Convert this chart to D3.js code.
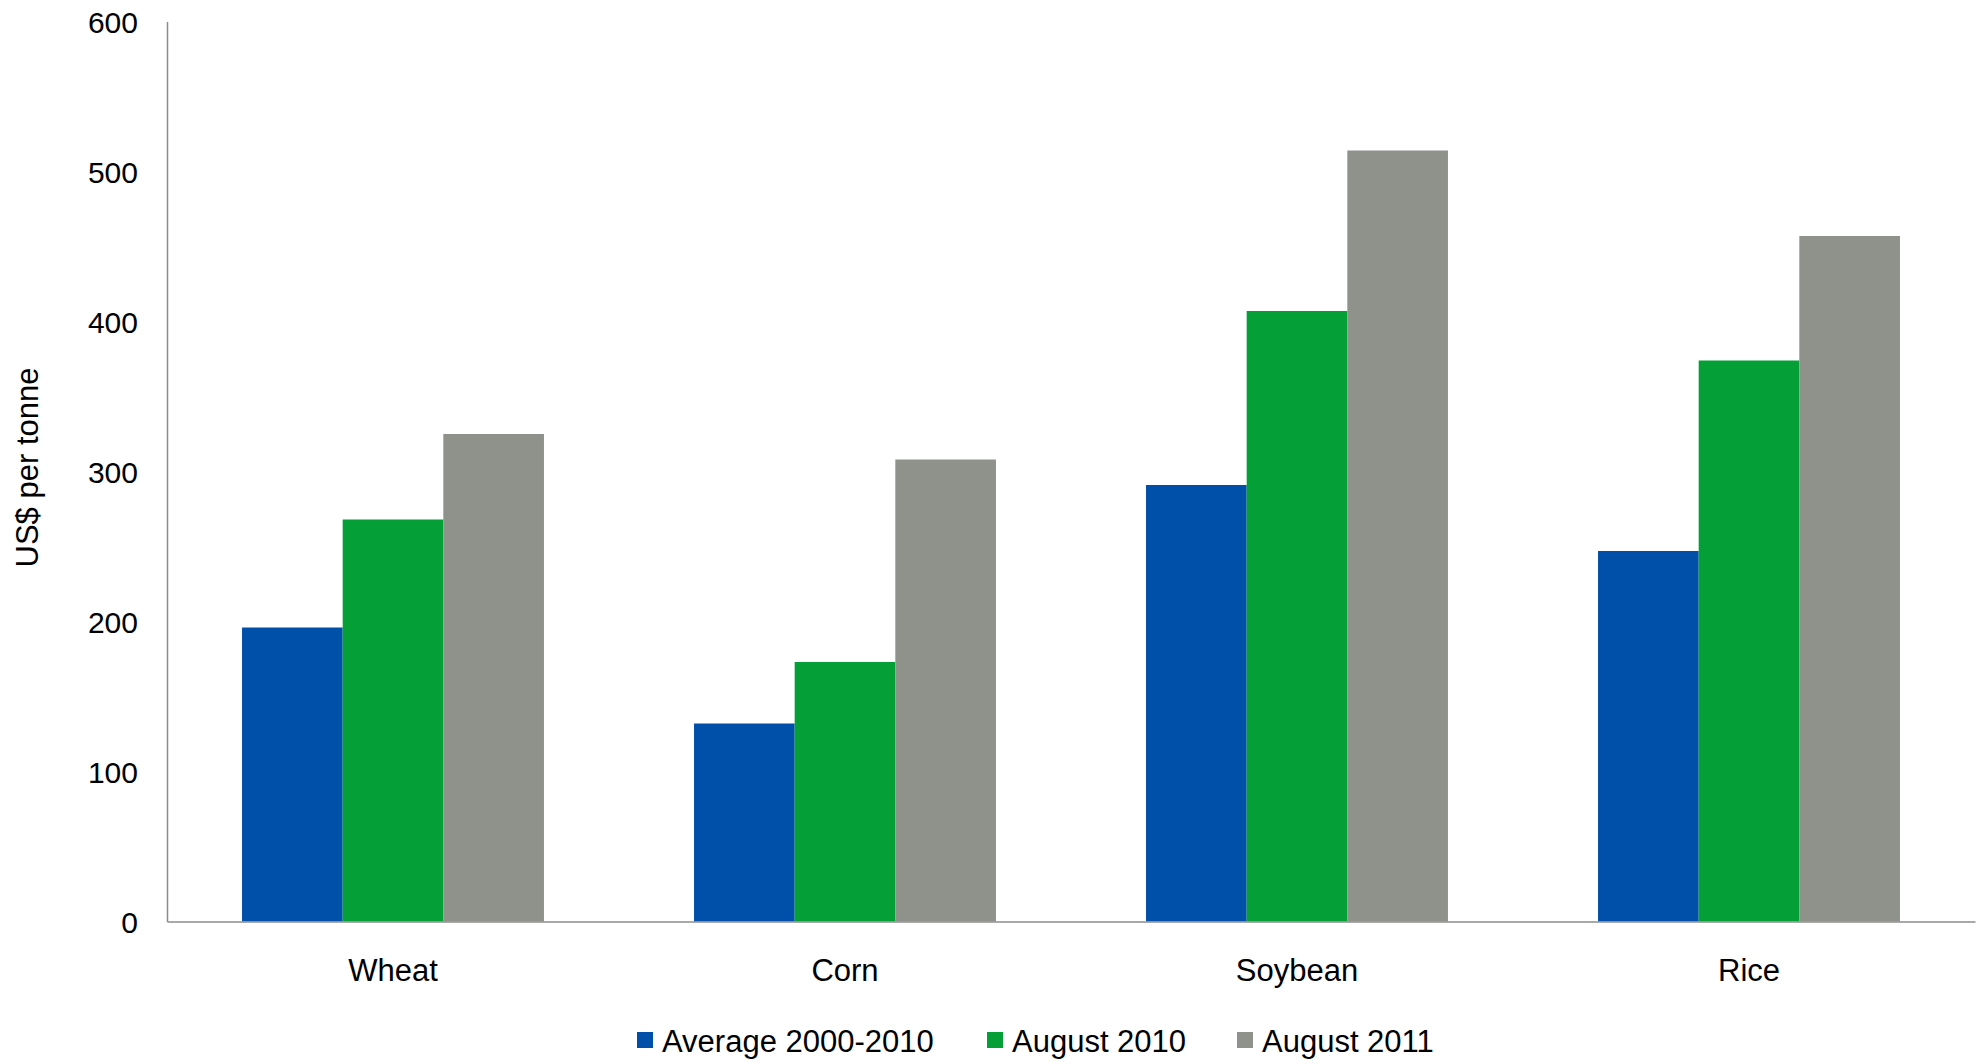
<!DOCTYPE html>
<html>
<head>
<meta charset="utf-8">
<script src="https://cdn.jsdelivr.net/npm/d3@7"></script>
<style>
  html, body { margin: 0; padding: 0; background: #fff; }
  svg { display: block; font-family: Arial, "Liberation Sans", sans-serif; }
</style>
</head>
<body>
<svg id="chart" width="1985" height="1064"></svg>
<script>
// Grain prices, US$ per tonne
const categories = ["Wheat", "Corn", "Soybean", "Rice"];
const seriesNames = ["Average 2000-2010", "August 2010", "August 2011"];
const average2000to2010 = [196, 132, 291, 247];
const august2010 = [268, 173, 407, 374];
const august2011 = [325, 308, 514, 457];
const yTicks = [0, 100, 200, 300, 400, 500, 600];
const seriesColors = ["#0050aa", "#04a037", "#8f918b"];

const seriesValues = [average2000to2010, august2010, august2011];
const rows = categories.map((c, i) => ({
  category: c,
  values: seriesNames.map((s, j) => ({ series: s, value: seriesValues[j][i] }))
}));

const svg = d3.select("#chart");
const margin = { left: 167, right: 10, top: 21.5, bottom: 142.5 };
const W = 1985, H = 1064;
const plotW = W - margin.left - margin.right;
const plotH = H - margin.top - margin.bottom;

const x0 = d3.scaleBand()
  .domain(categories)
  .range([0, plotW])
  .paddingInner(0.332)
  .paddingOuter(0.166);

const x1 = d3.scaleBand()
  .domain(seriesNames)
  .range([0, x0.bandwidth()])
  .padding(0);

const y = d3.scaleLinear().domain([0, 600]).range([plotH, 0]);

const color = d3.scaleOrdinal().domain(seriesNames).range(seriesColors);

const g = svg.append("g").attr("transform", `translate(${margin.left},${margin.top})`);

// bars
g.selectAll("g.group")
  .data(rows)
  .join("g")
  .attr("class", "group")
  .attr("transform", d => `translate(${x0(d.category)},0)`)
  .selectAll("rect")
  .data(d => d.values)
  .join("rect")
  .attr("x", d => x1(d.series))
  .attr("width", x1.bandwidth())
  .attr("y", d => y(d.value))
  .attr("height", d => plotH - y(d.value))
  .attr("fill", d => color(d.series));

// y axis
const yAxis = g.append("g")
  .call(d3.axisLeft(y).tickValues(yTicks).tickSize(0).tickSizeOuter(0).tickPadding(29));
yAxis.selectAll("text")
  .attr("font-size", 30)
  .attr("font-family", "Arial, 'Liberation Sans', sans-serif")
  .attr("fill", "#000")
  .attr("dy", "0.38em");
yAxis.select(".domain").attr("stroke", "#8c8c8c").attr("stroke-width", 1.5);

// x axis
const xAxis = g.append("g")
  .attr("transform", `translate(0,${plotH})`)
  .call(d3.axisBottom(x0).tickSize(0).tickSizeOuter(0).tickPadding(37.5));
xAxis.selectAll("text")
  .attr("font-size", 31)
  .attr("font-family", "Arial, 'Liberation Sans', sans-serif")
  .attr("fill", "#000");
xAxis.select(".domain").attr("stroke", "#8c8c8c").attr("stroke-width", 1.5);

// y axis title
svg.append("text")
  .attr("transform", "translate(37.5,467.5) rotate(-90)")
  .attr("text-anchor", "middle")
  .attr("font-size", 31)
  .attr("fill", "#000")
  .text("US$ per tonne");

// legend
const legendX = [637, 987, 1237];
const legend = svg.append("g").attr("class", "legend");
const items = legend.selectAll("g")
  .data(seriesNames)
  .join("g")
  .attr("transform", (d, i) => `translate(${legendX[i]},1040)`);
items.append("rect")
  .attr("x", 0)
  .attr("y", -8)
  .attr("width", 16)
  .attr("height", 16)
  .attr("fill", d => color(d));
items.append("text")
  .attr("x", 25)
  .attr("y", 11.5)
  .attr("font-size", 31)
  .attr("fill", "#000")
  .text(d => d);
</script>
</body>
</html>
